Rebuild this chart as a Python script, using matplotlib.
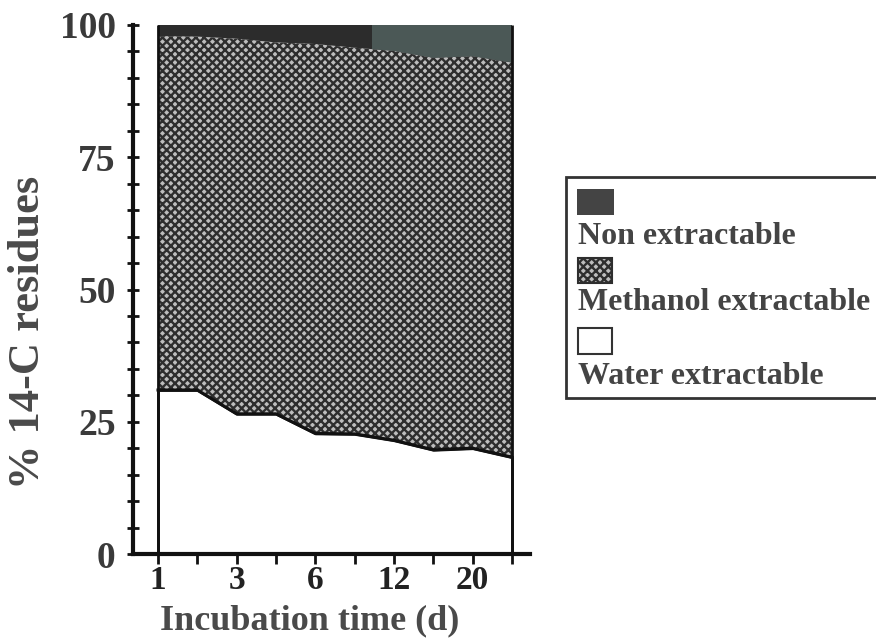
import numpy as np
import matplotlib.pyplot as plt
from matplotlib.patches import Rectangle

# data
x_ticklabels = ['1', '', '3', '', '6', '', '12', '', '20', '']
water = [31.0, 31.0, 26.5, 26.5, 22.8, 22.7, 21.5, 19.7, 20.0, 18.3]
water_methanol = [97.9, 97.8, 97.4, 96.7, 96.4, 95.7, 95.1, 93.8, 94.1, 92.9]
total = [100] * 10
legend_labels = ['Non extractable', 'Methanol extractable', 'Water extractable']

plt.rcParams['font.family'] = ['Liberation Serif', 'DejaVu Serif']
plt.rcParams['font.weight'] = 'bold'
plt.rcParams['hatch.linewidth'] = 1.7
plt.rcParams['hatch.color'] = '#2e2e2e'

W, H = 876, 643
fig = plt.figure(figsize=(W / 100, H / 100), dpi=100)
ax = fig.add_axes([133 / W, 1 - 554 / H, (530 - 133) / W, (554 - 25) / H])

x = np.arange(len(water))
x0 = 158
step = (512 - 158) / 9
ax.set_xlim((133 - x0) / step, (530 - x0) / step)
ax.set_ylim(0, 100)

# stacked areas
ax.fill_between(x, 0, water, facecolor='white', edgecolor='#111', lw=2, zorder=2)
ax.fill_between(x, water, water_methanol, facecolor='#bdbdbd', hatch='xxxx',
                edgecolor='#2e2e2e', lw=0, zorder=2)
ax.plot(x, water, color='#111', lw=2.2, zorder=3)
dark = ax.fill_between(x, water_methanol, total, facecolor='#2c2c2c', lw=0, zorder=2)
# right part of the top band is printed in a greyish green tone
shade = ax.axvspan((372 - x0) / step, x[-1], color='#4b5856', lw=0, zorder=2)
shade.set_clip_path(dark.get_paths()[0], dark.get_transform())
ax.vlines([x[0], x[-1]], 0, [total[0], total[-1]], color='#111', lw=2, zorder=3)

# axes styling
for s in ['top', 'right']:
    ax.spines[s].set_visible(False)
ax.spines['left'].set_linewidth(3)
ax.spines['bottom'].set_linewidth(3)
ax.spines['left'].set_color('#111')
ax.spines['bottom'].set_color('#111')

ax.set_yticks([0, 25, 50, 75, 100])
ax.set_yticks(np.arange(0, 101, 5), minor=True)
ax.tick_params(axis='y', which='both', direction='inout', length=9, width=2,
               color='#111', labelsize=27, labelcolor='#3a3a3a', pad=8)
ax.set_xticks(x)
ax.set_xticklabels(x_ticklabels)
ax.tick_params(axis='x', direction='out', length=7, width=2, color='#111',
               labelsize=24, labelcolor='#222', pad=1)

fig.text(28 / W, 1 - 332 / H, '% 14-C residues', rotation=90, ha='center',
         va='center', fontsize=32, color='#4a4a4a')
fig.text(310 / W, 1 - 629 / H, 'Incubation time (d)', ha='center', va='baseline',
         fontsize=26, color='#4a4a4a')

# legend drawn as patch above its label
fig.patches.append(Rectangle((566 / W, 1 - 398 / H), (W + 10 - 566) / W, (398 - 177) / H,
                             transform=fig.transFigure, facecolor='white',
                             edgecolor='#333', lw=2))
fig.patches.append(Rectangle((577 / W, 1 - 215 / H), 37 / W, 26 / H,
                             transform=fig.transFigure, facecolor='#444', lw=0))
fig.patches.append(Rectangle((578 / W, 1 - 283 / H), 34 / W, 25 / H,
                             transform=fig.transFigure, facecolor='#bdbdbd',
                             hatch='xxxx', edgecolor='#2e2e2e', lw=1.5))
fig.patches.append(Rectangle((578 / W, 1 - 354 / H), 34 / W, 26 / H,
                             transform=fig.transFigure, facecolor='white',
                             edgecolor='#333', lw=1.5))
for label, yc in zip(legend_labels, [236, 302, 377]):
    fig.text(578 / W, 1 - yc / H, label, ha='left', va='center',
             fontsize=23, color='#444')

fig.savefig('out.png', dpi=100)
